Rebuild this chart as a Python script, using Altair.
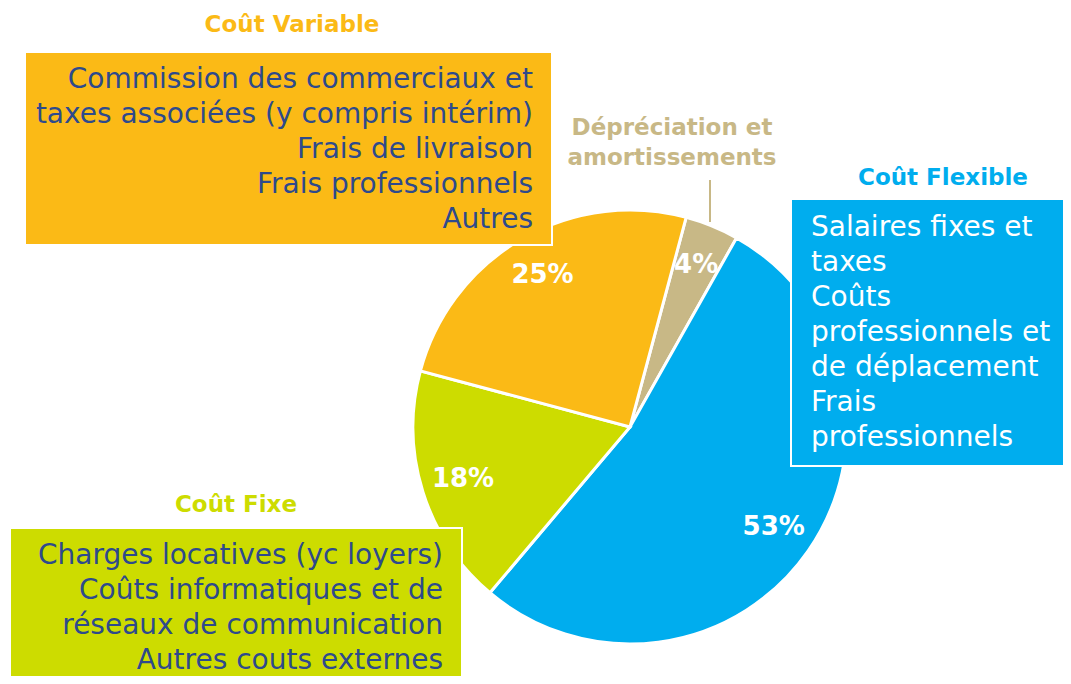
import math
import altair as alt
import pandas as pd

# ---- data ----
categories = ["Dépréciation et amortissements", "Coût Flexible", "Coût Fixe", "Coût Variable"]
shares = [4, 53, 18, 25]
share_labels = ["4%", "53%", "18%", "25%"]
slice_colors = ["#C8B886", "#00ADEE", "#CDDC00", "#FBBA16"]
slice_order = [0, 1, 2, 3]

variable_title = "Coût Variable"
variable_lines = [
    "Commission des commerciaux et",
    "taxes associées (y compris intérim)",
    "Frais de livraison",
    "Frais professionnels",
    "Autres",
]
flexible_title = "Coût Flexible"
flexible_lines = [
    "Salaires fixes et",
    "taxes",
    "Coûts",
    "professionnels et",
    "de déplacement",
    "Frais",
    "professionnels",
]
fixe_title = "Coût Fixe"
fixe_lines = [
    "Charges locatives (yc loyers)",
    "Coûts informatiques et de",
    "réseaux de communication",
    "Autres couts externes",
]
depr_lines = ["Dépréciation et", "amortissements"]

FONT = "DejaVu Sans"
DARK = "#2E4A8C"
TAN, BLUE, LIME, ORANGE = slice_colors

df = pd.DataFrame({"cat": categories, "share": shares, "label": share_labels, "ord": slice_order})

start = math.radians(15)
theta_scale = alt.Scale(range=[start, start + 2 * math.pi])
color_scale = alt.Scale(domain=categories, range=slice_colors)

CX, CY, R = 622, 419, 217

base = alt.Chart(df).encode(
    theta=alt.Theta("share:Q", stack=True, scale=theta_scale),
    order=alt.Order("ord:Q"),
    x=alt.value(CX),
    y=alt.value(CY),
)
pie = base.mark_arc(outerRadius=R, stroke="white", strokeWidth=3).encode(
    color=alt.Color("cat:N", scale=color_scale, legend=None)
)
pct = base.mark_text(radius=175, font=FONT, fontWeight="bold", fontSize=26, color="white").encode(
    text="label:N"
)

one = pd.DataFrame({"k": [0]})


def box(x1, x2, y1, y2, fill):
    return alt.Chart(one).mark_rect(fill=fill, stroke="white", strokeWidth=2).encode(
        x=alt.value(x1), x2=alt.value(x2), y=alt.value(y1), y2=alt.value(y2)
    )


def txt(lines, x, y, color, align, size, weight="normal", lh=35):
    return alt.Chart(one).mark_text(
        font=FONT, fontSize=size, fontWeight=weight, color=color, align=align,
        baseline="middle", lineHeight=lh,
    ).encode(x=alt.value(x), y=alt.value(y), text=alt.value(lines))


leader = alt.Chart(one).mark_rule(color=TAN, strokeWidth=2).encode(
    x=alt.value(702), y=alt.value(172), y2=alt.value(214)
)

layers = [
    pie,
    pct,
    box(17, 544, 44, 237, ORANGE),
    box(783, 1070, 191, 458, BLUE),
    box(2, 454, 520, 680, LIME),
    txt(variable_lines, 525, 72, DARK, "right", 28),
    txt(flexible_lines, 803, 220, "white", "left", 28),
    txt(fixe_lines, 435, 548, DARK, "right", 28),
    txt(variable_title, 284, 17, ORANGE, "center", 23, "bold"),
    txt(flexible_title, 935, 170, BLUE, "center", 23, "bold"),
    txt(fixe_title, 228, 497, LIME, "center", 23, "bold"),
    txt(depr_lines, 664, 120, TAN, "center", 23, "bold", 30),
    leader,
]

chart = alt.layer(*layers).properties(
    width=1055, height=668, autosize=alt.AutoSizeParams(type="none"), padding=0
).configure_view(strokeWidth=0)

chart.save("out.html", embed_options={"renderer": "svg", "actions": False})
